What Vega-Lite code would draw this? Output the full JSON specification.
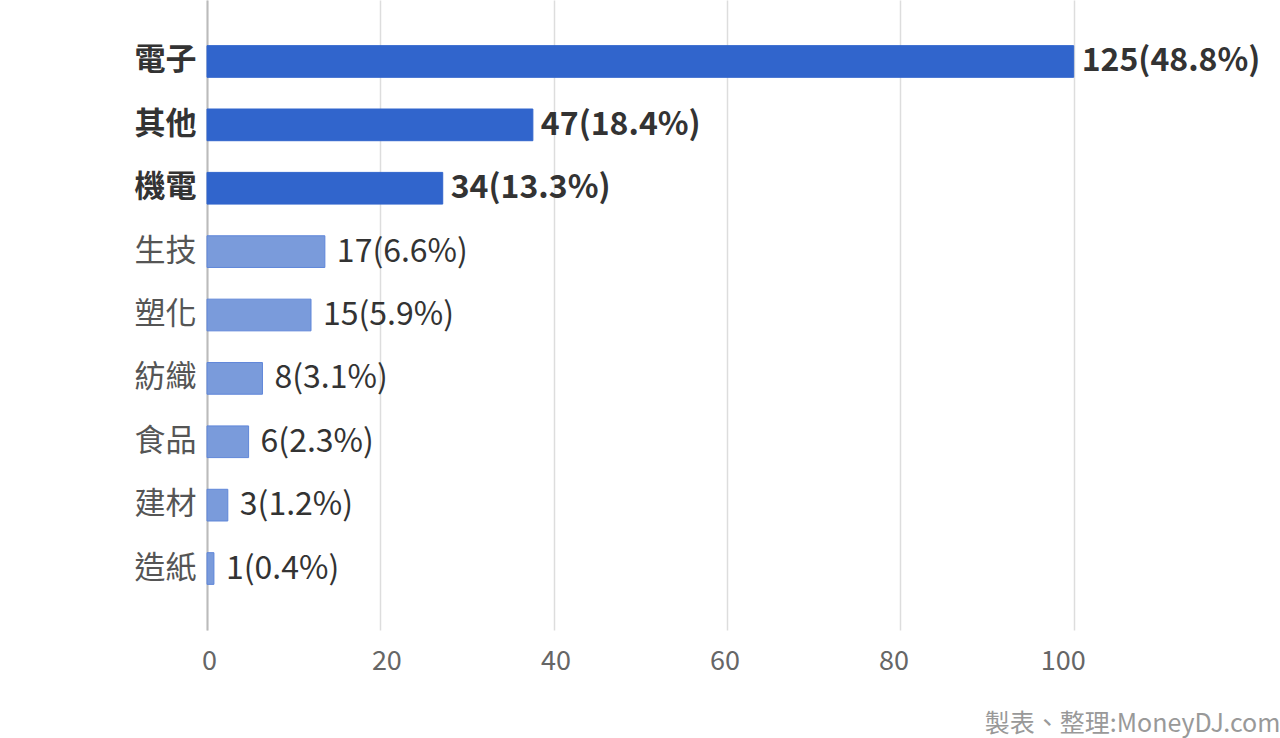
{
  "$schema": "https://vega.github.io/schema/vega-lite/v6.json",
  "width": 1040,
  "height": 630,
  "autosize": {"type": "none"},
  "padding": {"left": 207, "top": 0, "right": 33, "bottom": 108},
  "config": {
    "font": "Noto Sans CJK TC",
    "view": {"stroke": null}
  },
  "title": {
    "text": "製表、整理:MoneyDJ.com",
    "orient": "bottom",
    "anchor": "end",
    "fontSize": 25,
    "fontWeight": "normal",
    "color": "#999999",
    "offset": 38,
    "dx": 20
  },
  "data": {
    "values": [
      {"industry": "電子", "value": 100, "label": "125(48.8%)", "group": "major"},
      {"industry": "其他", "value": 37.6, "label": "47(18.4%)", "group": "major"},
      {"industry": "機電", "value": 27.2, "label": "34(13.3%)", "group": "major"},
      {"industry": "生技", "value": 13.6, "label": "17(6.6%)", "group": "minor"},
      {"industry": "塑化", "value": 12, "label": "15(5.9%)", "group": "minor"},
      {"industry": "紡織", "value": 6.4, "label": "8(3.1%)", "group": "minor"},
      {"industry": "食品", "value": 4.8, "label": "6(2.3%)", "group": "minor"},
      {"industry": "建材", "value": 2.4, "label": "3(1.2%)", "group": "minor"},
      {"industry": "造紙", "value": 0.8, "label": "1(0.4%)", "group": "minor"}
    ]
  },
  "encoding": {
    "y": {
      "field": "industry",
      "type": "nominal",
      "sort": null,
      "scale": {"paddingInner": 0.5, "paddingOuter": 0.72},
      "axis": {
        "title": null,
        "ticks": false,
        "domain": true,
        "domainColor": "#bbbbbb",
        "domainWidth": 2,
        "labelFontSize": 31,
        "labelPadding": 11,
        "labelColor": {"condition": {"test": "indexof(['電子','其他','機電'], datum.value) >= 0", "value": "#333333"}, "value": "#555555"},
        "labelFontWeight": {"condition": {"test": "indexof(['電子','其他','機電'], datum.value) >= 0", "value": "bold"}, "value": "normal"}
      }
    },
    "x": {
      "field": "value",
      "type": "quantitative",
      "scale": {"domain": [0, 120], "nice": false},
      "axis": {
        "title": null,
        "values": [0, 20, 40, 60, 80, 100],
        "domain": false,
        "ticks": false,
        "grid": true,
        "gridColor": "#dddddd",
        "gridWidth": 1.5,
        "labelFlush": false,
        "labelFontSize": 27,
        "labelColor": "#666666",
        "labelPadding": 18,
        "labelOffset": {"expr": "datum.value == 0 ? 2 : 10.3 - 0.213 * datum.value"}
      }
    }
  },
  "layer": [
    {
      "mark": {"type": "bar", "strokeWidth": 1},
      "encoding": {
        "color": {
          "field": "group",
          "type": "nominal",
          "scale": {"domain": ["major", "minor"], "range": ["#3165cc", "#7a9bdb"]},
          "legend": null
        },
        "stroke": {
          "field": "group",
          "type": "nominal",
          "scale": {"domain": ["major", "minor"], "range": ["#3165cc", "#5f86d9"]},
          "legend": null
        }
      }
    },
    {
      "transform": [{"filter": "datum.group == 'major'"}],
      "mark": {"type": "text", "align": "left", "baseline": "middle", "dx": 8, "fontSize": 32, "fontWeight": "bold", "color": "#333333"},
      "encoding": {"text": {"field": "label"}}
    },
    {
      "transform": [{"filter": "datum.group == 'minor'"}],
      "mark": {"type": "text", "align": "left", "baseline": "middle", "dx": 12, "fontSize": 32, "fontWeight": "normal", "color": "#333333"},
      "encoding": {"text": {"field": "label"}}
    }
  ]
}
